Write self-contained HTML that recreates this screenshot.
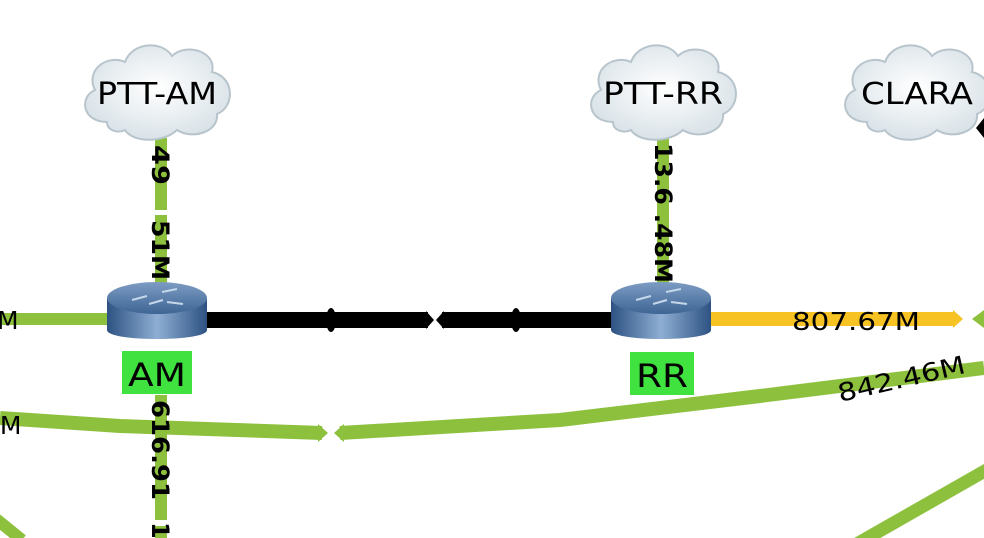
<!DOCTYPE html>
<html><head><meta charset="utf-8"><style>
html,body{margin:0;padding:0;background:#fff;width:984px;height:538px;overflow:hidden}
svg{display:block;font-family:"DejaVu Sans","Liberation Sans",sans-serif}
</style></head><body>
<svg width="984" height="538" viewBox="0 0 984 538" xmlns="http://www.w3.org/2000/svg">
<defs>
<radialGradient id="cg" cx="50%" cy="45%" r="60%">
<stop offset="0" stop-color="#ffffff"/><stop offset="1" stop-color="#d6e0e6"/></radialGradient>
<linearGradient id="rt" x1="0" y1="0" x2="0" y2="1">
<stop offset="0" stop-color="#7d9cc4"/><stop offset="1" stop-color="#3e6594"/></linearGradient>
<linearGradient id="rs" x1="0" y1="0" x2="1" y2="0">
<stop offset="0" stop-color="#2d5282"/><stop offset="0.5" stop-color="#8eaed3"/><stop offset="1" stop-color="#2d5282"/></linearGradient>
<g id="cloud">
<path d="M-50,30 C-75,30 -78,5 -62,-2 C-72,-22 -50,-38 -32,-30 C-25,-50 5,-52 15,-36 C30,-50 60,-40 55,-20 C78,-15 78,15 60,22 C62,40 35,48 20,38 C5,52 -25,50 -32,38 C-40,42 -50,38 -50,30 Z" fill="url(#cg)" stroke="#b8c4cc" stroke-width="2"/>
</g>
<g id="router">
<path d="M-50,-14 L-50,18 C-50,30 50,30 50,18 L50,-14 Z" fill="url(#rs)"/>
<ellipse cx="0" cy="-14" rx="50" ry="16" fill="url(#rt)"/>
<path d="M-25,-12 l15,-4 M5,-20 l15,-3 M-8,-8 l14,-4 M10,-10 l16,2" stroke="#c5d6ea" stroke-width="2" fill="none"/>
</g>
</defs>

<!-- green curve -->
<path d="M0,418 L120,426 L322,433" stroke="#8dc03d" stroke-width="14" fill="none"/>
<path d="M318,424 L328,433 L318,442 Z" fill="#8dc03d"/>
<path d="M340,433 L560,420 L760,396 L984,368" stroke="#8dc03d" stroke-width="14" fill="none"/>
<path d="M344,424 L334,433 L344,442 Z" fill="#8dc03d"/>
<text x="0" y="0" font-size="25" textLength="130" lengthAdjust="spacingAndGlyphs" transform="translate(840,402) rotate(-13)">842.46M</text>
<text x="-16" y="434" font-size="25">6M</text>

<!-- bottom lines -->
<path d="M855,545 L990,468" stroke="#8dc03d" stroke-width="13" fill="none"/>
<path d="M-5,518 L22,540" stroke="#8dc03d" stroke-width="12" fill="none"/>

<!-- vertical AM lines -->
<path d="M161,138 L161,210 M161,215 L161,285" stroke="#8dc03d" stroke-width="12" fill="none"/>
<path d="M161,395 L161,520 M161,526 L161,538" stroke="#8dc03d" stroke-width="12" fill="none"/>
<text font-size="24" font-weight="bold" textLength="40" lengthAdjust="spacingAndGlyphs" transform="translate(152,145) rotate(90)">49</text>
<text font-size="24" font-weight="bold" textLength="60" lengthAdjust="spacingAndGlyphs" transform="translate(152,220) rotate(90)">51M</text>
<text font-size="24" font-weight="bold" textLength="100" lengthAdjust="spacingAndGlyphs" transform="translate(152,400) rotate(90)">616.91</text>
<text font-size="24" font-weight="bold" transform="translate(152,522) rotate(90)">1</text>

<!-- vertical RR line -->
<path d="M663,138 L663,285" stroke="#8dc03d" stroke-width="12" fill="none"/>
<text font-size="24" font-weight="bold" textLength="140" lengthAdjust="spacingAndGlyphs" transform="translate(655,143) rotate(90)">13.6 .48M</text>

<!-- left green -->
<path d="M0,319 L108,319" stroke="#8dc03d" stroke-width="12"/>
<text x="-3" y="329" font-size="25">M</text>

<!-- black link -->
<path d="M205,320 L428,320 M442,320 L615,320" stroke="#000" stroke-width="16"/>
<path d="M426,311 L434,320 L426,329 Z M444,311 L436,320 L444,329 Z" fill="#000"/>
<ellipse cx="331" cy="320" rx="5" ry="12" fill="#000"/>
<ellipse cx="516" cy="320" rx="5" ry="12" fill="#000"/>

<!-- orange link -->
<path d="M710,319 L955,319" stroke="#f6c224" stroke-width="14"/>
<path d="M953,310 L963,319 L953,328 Z" fill="#f6c224"/>
<path d="M984,310 L972,319 L984,328 Z" fill="#8dc03d"/>
<text x="792" y="330" font-size="25" textLength="128" lengthAdjust="spacingAndGlyphs">807.67M</text>

<!-- clouds -->
<use href="#cloud" transform="translate(157,92)"/>
<use href="#cloud" transform="translate(663,92)"/>
<use href="#cloud" transform="translate(917,92)"/>
<path d="M976,128 L984,118 L984,138 Z" fill="#000"/>
<text x="157" y="104" font-size="30" text-anchor="middle" textLength="120" lengthAdjust="spacingAndGlyphs">PTT-AM</text>
<text x="663" y="104" font-size="30" text-anchor="middle" textLength="120" lengthAdjust="spacingAndGlyphs">PTT-RR</text>
<text x="861" y="104" font-size="30" textLength="112" lengthAdjust="spacingAndGlyphs">CLARA</text>

<!-- routers -->
<use href="#router" transform="translate(157,312)"/>
<use href="#router" transform="translate(661,312)"/>
<rect x="122" y="351" width="70" height="43" fill="#3fe23f"/>
<text x="157" y="386" font-size="32" text-anchor="middle" textLength="58" lengthAdjust="spacingAndGlyphs">AM</text>
<rect x="630" y="352" width="64" height="43" fill="#3fe23f"/>
<text x="662" y="387" font-size="32" text-anchor="middle" textLength="52" lengthAdjust="spacingAndGlyphs">RR</text>
</svg>
</body></html>
